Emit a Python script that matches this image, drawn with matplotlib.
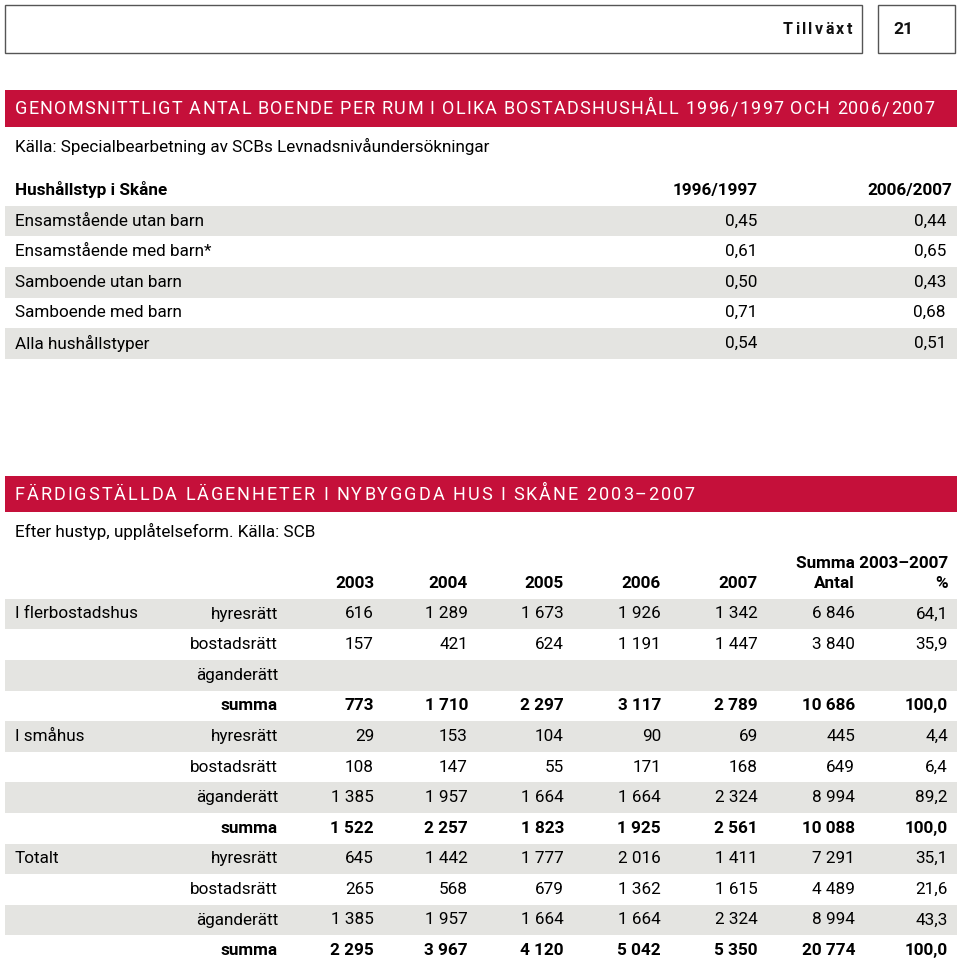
import matplotlib
matplotlib.use("Agg")
import matplotlib.pyplot as plt
from matplotlib.patches import Rectangle
from matplotlib.font_manager import FontProperties
from matplotlib.textpath import TextToPath

plt.rcParams['font.family'] = ['Roboto', 'Liberation Sans', 'DejaVu Sans']

RED = '#c5103a'
GRAY = '#e4e4e1'

# --- table 1 data ---
title1 = "GENOMSNITTLIGT ANTAL BOENDE PER RUM I OLIKA BOSTADSHUSHÅLL 1996/1997 OCH 2006/2007"
source1 = "Källa: Specialbearbetning av SCBs Levnadsnivåundersökningar"
t1_header = ["Hushållstyp i Skåne", "1996/1997", "2006/2007"]
t1_rows = ["Ensamstående utan barn", "Ensamstående med barn*", "Samboende utan barn",
           "Samboende med barn", "Alla hushållstyper"]
t1_9697 = ["0,45", "0,61", "0,50", "0,71", "0,54"]
t1_0607 = ["0,44", "0,65", "0,43", "0,68", "0,51"]

# --- table 2 data ---
title2 = "FÄRDIGSTÄLLDA LÄGENHETER I NYBYGGDA HUS I SKÅNE 2003–2007"
source2 = "Efter hustyp, upplåtelseform. Källa: SCB"
t2_years = ["2003", "2004", "2005", "2006", "2007", "Antal", "%"]
t2_group = ["I flerbostadshus", "", "", "", "I småhus", "", "", "", "Totalt", "", "", ""]
t2_form = ["hyresrätt", "bostadsrätt", "äganderätt", "summa"] * 3
t2_values = [
    ["616", "1 289", "1 673", "1 926", "1 342", "6 846", "64,1"],
    ["157", "421", "624", "1 191", "1 447", "3 840", "35,9"],
    ["", "", "", "", "", "", ""],
    ["773", "1 710", "2 297", "3 117", "2 789", "10 686", "100,0"],
    ["29", "153", "104", "90", "69", "445", "4,4"],
    ["108", "147", "55", "171", "168", "649", "6,4"],
    ["1 385", "1 957", "1 664", "1 664", "2 324", "8 994", "89,2"],
    ["1 522", "2 257", "1 823", "1 925", "2 561", "10 088", "100,0"],
    ["645", "1 442", "1 777", "2 016", "1 411", "7 291", "35,1"],
    ["265", "568", "679", "1 362", "1 615", "4 489", "21,6"],
    ["1 385", "1 957", "1 664", "1 664", "2 324", "8 994", "43,3"],
    ["2 295", "3 967", "4 120", "5 042", "5 350", "20 774", "100,0"],
]

DPI = 100
_t2p = TextToPath()


def advance(ch, prop):
    # glyph advance in pixels, measured between two H's so spaces count too
    w1 = _t2p.get_text_width_height_descent("H" + ch + "H", prop, ismath=False)[0]
    w0 = _t2p.get_text_width_height_descent("HH", prop, ismath=False)[0]
    return (w1 - w0) * DPI / 72


def tracked_text(ax, x0, x1, y, s, size, **kw):
    # letter-spaced text stretched from x0 to x1
    prop = FontProperties(family='Roboto', size=size, weight=kw.get('fontweight', 'normal'))
    adv = [advance(c, prop) for c in s]
    last = _t2p.get_text_width_height_descent(s[-1], prop, ismath=False)[0] * DPI / 72
    natural = sum(adv[:-1]) + last
    track = (x1 - x0 - natural) / (len(s) - 1)
    x = x0
    for c, a in zip(s, adv):
        if c != ' ':
            ax.text(x, y, c, ha='left', va='center', fontsize=size, **kw)
        x += a + track


fig = plt.figure(figsize=(9.6, 9.64), dpi=DPI)
ax = fig.add_axes([0, 0, 1, 1])
ax.set_xlim(0, 960)
ax.set_ylim(964, 0)
ax.axis('off')

fs = 12.3
# page header boxes
ax.add_patch(Rectangle((5, 5), 857, 48, fill=False, ec='#555555', lw=1))
ax.add_patch(Rectangle((878, 5), 77, 48, fill=False, ec='#555555', lw=1))
tracked_text(ax, 783, 852, 30, "Tillväxt", 11.5, fontweight='bold', color='#111111')
ax.text(893, 30, "21", ha='left', va='center', fontsize=12.5, fontweight='bold', color='#111111')

LEFT, RIGHT = 5, 957
ROW = 30.6


def red_bar(y0, y1, text, x_end, size):
    ax.add_patch(Rectangle((LEFT, y0), RIGHT - LEFT, y1 - y0, color=RED, lw=0))
    tracked_text(ax, 15, x_end, (y0 + y1) / 2 + 1, text, size, color='white')


# ---- table 1 ----
red_bar(90, 127, title1, 935, 13)
ax.text(15, 146, source1, ha='left', va='center', fontsize=fs)
y = 190
ax.text(15, y, t1_header[0], ha='left', va='center', fontsize=fs, fontweight='bold')
ax.text(758, y, t1_header[1], ha='right', va='center', fontsize=fs, fontweight='bold')
ax.text(952, y, t1_header[2], ha='right', va='center', fontsize=fs, fontweight='bold')
for i, name in enumerate(t1_rows):
    yc = 221 + i * ROW
    if i % 2 == 0:
        ax.add_patch(Rectangle((LEFT, yc - ROW / 2), RIGHT - LEFT, ROW, color=GRAY, lw=0))
    ax.text(15, yc, name, ha='left', va='center', fontsize=fs)
    ax.text(757, yc, t1_9697[i], ha='right', va='center', fontsize=fs)
    ax.text(946, yc, t1_0607[i], ha='right', va='center', fontsize=fs)

# ---- table 2 ----
red_bar(476, 512, title2, 695, 13)
ax.text(15, 531, source2, ha='left', va='center', fontsize=fs)
col_x = [374, 468, 564, 661, 758, 855, 948]
ax.text(948, 563, "Summa 2003–2007", ha='right', va='center', fontsize=fs, fontweight='bold')
for x, lab in zip(col_x, t2_years):
    ax.text(x, 584, lab, ha='right', va='center', fontsize=fs, fontweight='bold')
for i in range(len(t2_form)):
    yc = 614 + i * ROW
    if i % 2 == 0:
        ax.add_patch(Rectangle((LEFT, yc - ROW / 2), RIGHT - LEFT, ROW, color=GRAY, lw=0))
    bold = 'bold' if t2_form[i] == 'summa' else 'normal'
    ax.text(15, yc, t2_group[i], ha='left', va='center', fontsize=fs)
    ax.text(278, yc, t2_form[i], ha='right', va='center', fontsize=fs, fontweight=bold)
    for x, v in zip(col_x, t2_values[i]):
        ax.text(x, yc, v, ha='right', va='center', fontsize=fs, fontweight=bold)

fig.savefig("out.png", dpi=DPI)
